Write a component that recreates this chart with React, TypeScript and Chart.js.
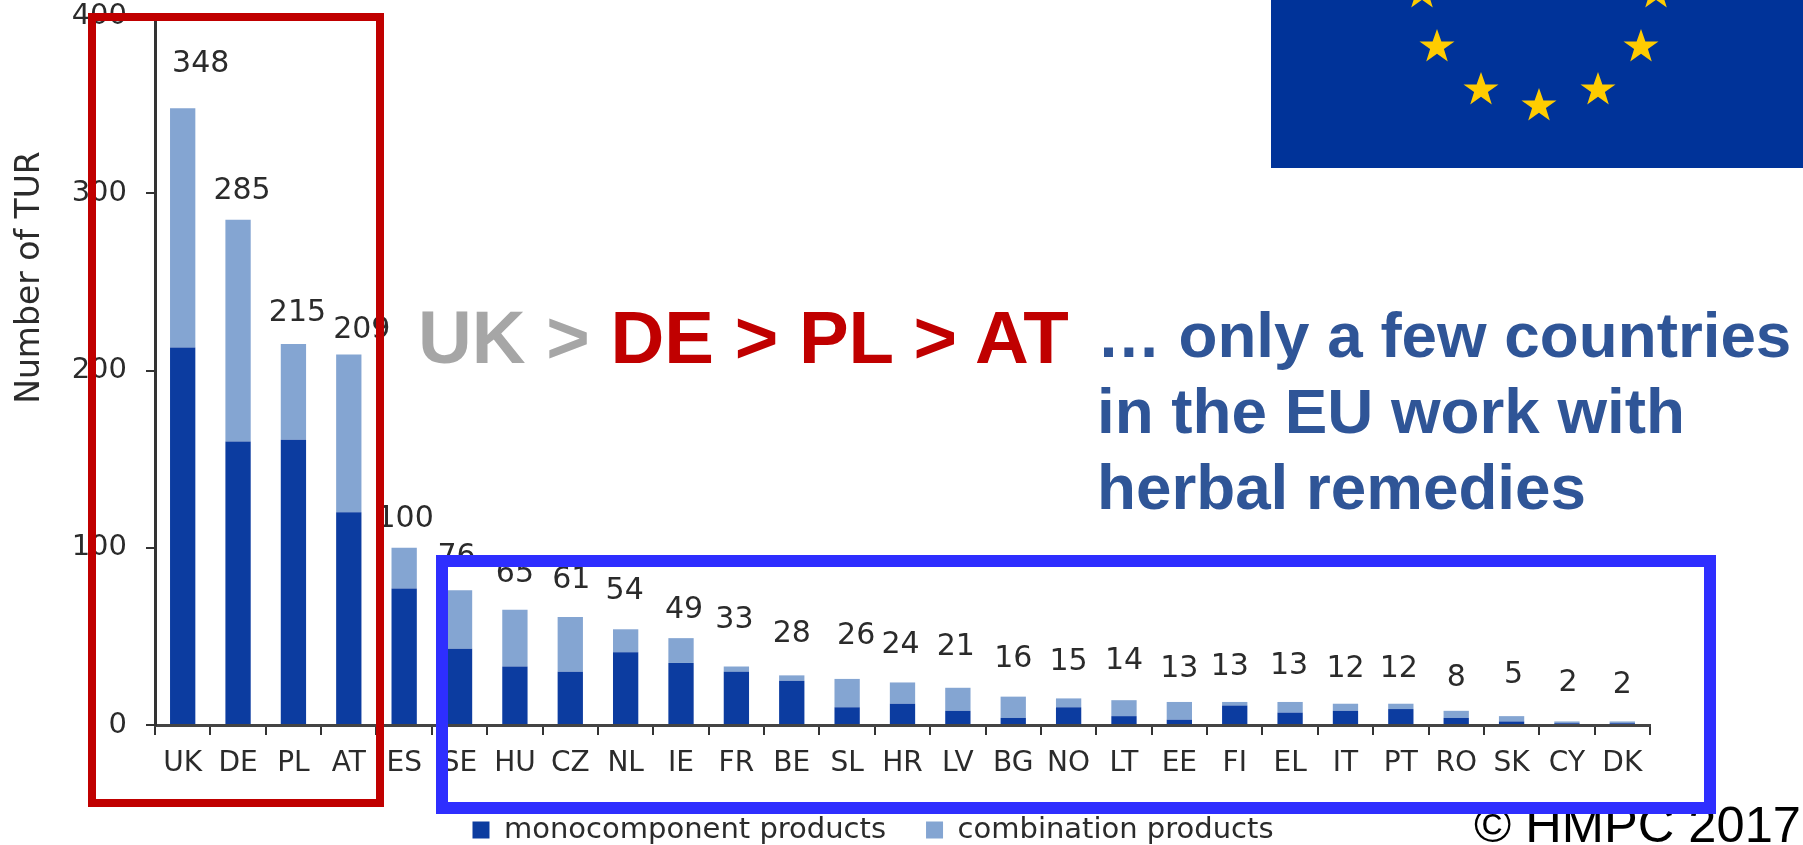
import React, { useEffect, useRef } from "react";
import { Chart, registerables } from "chart.js";

Chart.register(...registerables);

const countries = ["UK","DE","PL","AT","ES","SE","HU","CZ","NL","IE","FR","BE","SL","HR","LV","BG","NO","LT","EE","FI","EL","IT","PT","RO","SK","CY","DK"];
const totals = [348,285,215,209,100,76,65,61,54,49,33,28,26,24,21,16,15,14,13,13,13,12,12,8,5,2,2];
const monocomponent = [213,160,161,120,77,43,33,30,41,35,30,25,10,12,8,4,10,5,3,11,7,8,9,4,2,1,1];
const combination = [135,125,54,89,23,33,32,31,13,14,3,3,16,12,13,12,5,9,10,2,6,4,3,4,3,1,1];
const yTicks = [0,100,200,300,400];

// hand placement of the total labels, which float unevenly above the bars in the reference
const labelLift = [44,29,31,24,29,33,36,37,38,28,46,41,43,37,41,37,36,39,33,35,36,35,35,33,41,38,36];
const labelNudge = [18,4,4,13,1,-3,0,1,-1,3,-2,0,9,-2,-2,0,0,0,0,-5,-1,0,-2,0,2,1,0];

const CHART_FONT = "'DejaVu Sans', sans-serif";
const INK = "#2b2b2b";
const STAR_POINTS = "0,-18 4.4,-5.6 17.5,-5.6 6.9,2 10.8,14.5 0,6.8 -10.8,14.5 -6.9,2 -17.5,-5.6 -4.4,-5.6";
const STARS: [number, number][] = [[1539,106],[1481,90],[1598,90],[1437,47],[1641,47],[1422,-7],[1656,-7]];

const totalLabels = {
  id: "totalLabels",
  afterDatasetsDraw(chart: any) {
    const { ctx, scales } = chart;
    ctx.save();
    ctx.font = `30px ${CHART_FONT}`;
    ctx.fillStyle = INK;
    ctx.textAlign = "center";
    ctx.textBaseline = "middle";
    totals.forEach((t, i) => {
      const x = scales.x.getPixelForValue(i) + labelNudge[i];
      const y = scales.y.getPixelForValue(t) - labelLift[i];
      ctx.fillText(String(t), x, y);
    });
    ctx.restore();
  },
};

const placement = {
  id: "placement",
  afterLayout(chart: any) {
    const lg = chart.legend;
    if (lg) {
      const dx = 873 - (lg.left + lg.right) / 2;
      lg.left += dx;
      lg.right += dx;
      lg.top = 815 - lg.height / 2;
      lg.bottom = lg.top + lg.height;
      lg.adjustHitBoxes && lg.adjustHitBoxes();
    }
    // tick labels sit below the legend's reserved band; widen the x scale's label clip
    chart.scales.x.bottom = chart.height;
    const y = chart.scales.y;
    if (!y.__titleShifted) {
      const orig = y.drawTitle;
      y.drawTitle = function () {
        const c = this.ctx;
        c.save();
        c.translate(0, -93);
        orig.call(this);
        c.restore();
      };
      y.__titleShifted = true;
    }
  },
};

export default function App() {
  const ref = useRef<HTMLCanvasElement>(null);
  useEffect(() => {
    document.body.style.margin = "0";
    const chart = new Chart(ref.current as HTMLCanvasElement, {
      type: "bar",
      data: {
        labels: countries,
        datasets: [
          { label: "monocomponent products", data: monocomponent, backgroundColor: "#0C3CA0", categoryPercentage: 1, barPercentage: 0.457 },
          { label: "combination products", data: combination, backgroundColor: "#84A5D2", categoryPercentage: 1, barPercentage: 0.457 },
        ],
      },
      options: {
        animation: false,
        responsive: false,
        layout: { autoPadding: false, padding: { top: 16, right: 153, left: 0, bottom: 0 } },
        plugins: {
          tooltip: { enabled: false },
          legend: {
            position: "bottom",
            labels: {
              color: INK,
              boxWidth: 17,
              boxHeight: 17,
              padding: 40,
              font: { family: CHART_FONT, size: 29 },
            },
          },
        },
        scales: {
          x: {
            stacked: true,
            afterFit(s: any) { s.height = 41; s.paddingLeft = 0; s.paddingRight = 0; },
            grid: { offset: true, drawOnChartArea: false, drawTicks: true, tickLength: 10, color: "#333333", lineWidth: 2 },
            border: { color: "#444444", width: 3 },
            ticks: { color: INK, padding: 12, maxRotation: 0, autoSkip: false, font: { family: CHART_FONT, size: 28 } },
          },
          y: {
            stacked: true,
            min: 0,
            max: 400,
            afterFit(s: any) { s.width = 155; s.paddingTop = 0; s.paddingBottom = 0; },
            afterBuildTicks(s: any) { s.ticks = yTicks.map((value) => ({ value })); },
            grid: { drawOnChartArea: false, drawTicks: true, tickLength: 9, color: "#333333", lineWidth: 2 },
            border: { color: "#333333", width: 3 },
            ticks: { color: INK, padding: 19, font: { family: CHART_FONT, size: 29 } },
            title: { display: true, text: "Number of TUR", color: INK, padding: { top: 11, bottom: 0 }, font: { family: CHART_FONT, size: 33 } },
          },
        },
      },
      plugins: [totalLabels, placement],
    } as any);
    return () => chart.destroy();
  }, []);

  const big: React.CSSProperties = { position: "absolute", fontFamily: "'Liberation Sans', Arial, sans-serif", fontWeight: 700, whiteSpace: "nowrap" };
  return (
    <div style={{ position: "absolute", left: 0, top: 0, width: 1803, height: 845, overflow: "hidden", background: "#fff" }}>
      <canvas ref={ref} width={1803} height={845} style={{ display: "block" }} />
      <div style={{ position: "absolute", left: 1474, top: 798, fontFamily: "'Liberation Sans', Arial, sans-serif", fontSize: 50.6, lineHeight: "54px", color: "#000", whiteSpace: "nowrap" }}>
        © HMPC 2017
      </div>
      <svg width={1803} height={845} style={{ position: "absolute", left: 0, top: 0 }}>
        <rect x={1271} y={-5} width={540} height={173} fill="#003399" />
        {STARS.map(([x, y], i) => (
          <polygon key={i} points={STAR_POINTS} transform={`translate(${x} ${y})`} fill="#FFCC00" />
        ))}
        <rect x={92} y={17} width={288} height={786} fill="none" stroke="#C00000" strokeWidth={8} />
        <rect x={442} y={561} width={1268} height={247} fill="none" stroke="#2E2EFF" strokeWidth={12} />
      </svg>
      <div style={{ ...big, left: 418, top: 298, fontSize: 74.5, lineHeight: "80px", color: "#A6A6A6" }}>
        {"UK > "}<span style={{ color: "#C00000" }}>{"DE > PL > AT"}</span>
      </div>
      <div style={{ ...big, left: 1097, top: 297, fontSize: 63.75, lineHeight: "76px", color: "#2F5597" }}>
        … only a few countries<br />in the EU work with<br />herbal remedies
      </div>
    </div>
  );
}
